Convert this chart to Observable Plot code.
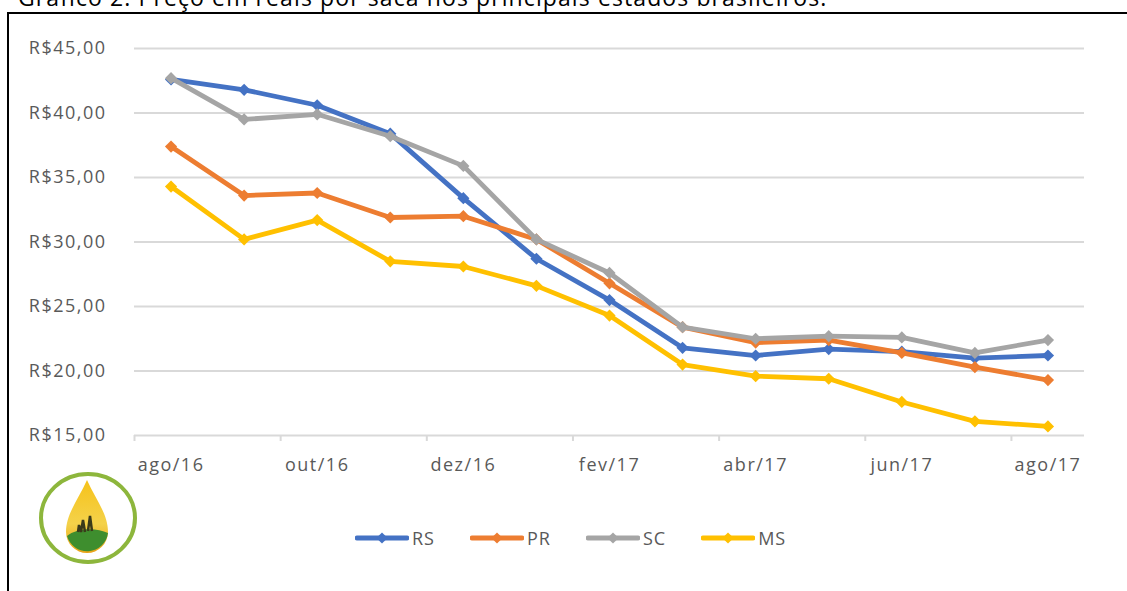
<!DOCTYPE html>
<html>
<head>
<meta charset="utf-8">
<script src="https://cdn.jsdelivr.net/npm/d3@7"></script>
<script src="https://cdn.jsdelivr.net/npm/@observablehq/plot@0.6"></script>
<style>
  html, body { margin: 0; padding: 0; background: #fff; overflow: hidden; }
  #page { position: relative; width: 1127px; height: 591px; overflow: hidden; font-family: "Open Sans", sans-serif; }
  #title { position: absolute; left: 18px; top: -14px; font-size: 23px; line-height: 23px; color: #000; white-space: nowrap; letter-spacing: 1.1px; }
  #frame { position: absolute; left: 7px; top: 12px; width: 1200px; height: 700px; border: 2.5px solid #000; box-sizing: border-box; }
  #chart { position: absolute; left: 0; top: 0; }
  #legend { position: absolute; left: 355px; top: 526px; display: flex; gap: 35px; align-items: center; }
  .item { display: flex; align-items: center; gap: 3px; font-size: 18px; color: #595959; letter-spacing: 1px; }
  #logo { position: absolute; left: 36px; top: 470px; }
</style>
</head>
<body>
<div id="page">
  <div id="title">Gráfico 2: Preço em reais por saca nos principais estados brasileiros.</div>
  <div id="frame"></div>
  <div id="chart"></div>
  <div id="legend"></div>
  <svg id="logo" width="106" height="100" viewBox="0 0 106 100">
    <defs>
      <linearGradient id="gold" x1="0" y1="0" x2="0" y2="1">
        <stop offset="0" stop-color="#F6C21A"/>
        <stop offset="0.6" stop-color="#F4D24A"/>
        <stop offset="1" stop-color="#E8A317"/>
      </linearGradient>
    </defs>
    <ellipse cx="52" cy="48" rx="47" ry="44" fill="none" stroke="#8DB63C" stroke-width="4"/>
    <path d="M51,10 C42,30 30,44 30,62 A21,21 0 0 0 72,62 C72,44 60,30 51,10 Z" fill="url(#gold)"/>
    <path d="M31,66 C40,58 60,57 72,63 A21,21 0 0 1 31,66 Z" fill="#3E8E2E"/>
    <path d="M45,62 l2,-12 l2,12 M52,61 l2,-15 l2,15 M42,62 l1,-7 l2,7" stroke="#3a3a1a" stroke-width="2.5" fill="none"/>
  </svg>
</div>
<script>
const months = ["ago/16","set/16","out/16","nov/16","dez/16","jan/17","fev/17","mar/17","abr/17","mai/17","jun/17","jul/17","ago/17"];
const seriesNames = ["RS","PR","SC","MS"];
const rs = [42.6, 41.8, 40.6, 38.4, 33.4, 28.7, 25.5, 21.8, 21.2, 21.7, 21.5, 21.0, 21.2];
const pr = [37.4, 33.6, 33.8, 31.9, 32.0, 30.2, 26.8, 23.4, 22.2, 22.4, 21.4, 20.3, 19.3];
const sc = [42.7, 39.5, 39.9, 38.2, 35.9, 30.2, 27.6, 23.4, 22.5, 22.7, 22.6, 21.4, 22.4];
const ms = [34.3, 30.2, 31.7, 28.5, 28.1, 26.6, 24.3, 20.5, 19.6, 19.4, 17.6, 16.1, 15.7];
const seriesColors = ["#4472C4","#ED7D31","#A5A5A5","#FFC000"];
const yTicks = [15, 20, 25, 30, 35, 40, 45];

const seriesValues = [rs, pr, sc, ms];
const data = seriesNames.flatMap((s, k) => seriesValues[k].map((v, i) => ({serie: s, i, v})));
const labelIdx = months.map((m, i) => i).filter(i => i % 2 === 0);
const boundaries = labelIdx.map(i => i - 0.5);
const fmt = d => "R$" + d.toFixed(2).replace(".", ",");

const marks = [
  Plot.ruleY(yTicks, {stroke: "#d9d9d9", strokeWidth: 2}),
  Plot.axisY({ticks: yTicks, tickSize: 0, tickPadding: 28, tickFormat: fmt, label: null}),
  Plot.axisX({ticks: labelIdx, tickSize: 0, tickPadding: 23, tickFormat: i => months[i], label: null}),
  Plot.axisX({ticks: boundaries, tickSize: 6, tickFormat: () => "", stroke: "#d9d9d9", strokeWidth: 2, label: null})
];
for (const s of seriesNames) {
  const d = data.filter(r => r.serie === s);
  marks.push(Plot.line(d, {x: "i", y: "v", stroke: "serie", strokeWidth: 4.8, strokeLinejoin: "round", strokeLinecap: "round"}));
  marks.push(Plot.dot(d, {x: "i", y: "v", fill: "serie", symbol: "diamond2", r: 5.5}));
}

const chart = Plot.plot({
  width: 1127,
  height: 480,
  marginLeft: 134,
  marginRight: 43,
  marginTop: 48,
  marginBottom: 45,
  style: {fontFamily: "Open Sans", fontSize: "18px", color: "#595959", letterSpacing: "1.5px", background: "transparent", overflow: "visible"},
  x: {domain: [-0.5, 12.5], axis: null, label: null},
  y: {domain: [15, 45], axis: null, label: null},
  color: {domain: seriesNames, range: seriesColors},
  marks
});
document.getElementById("chart").appendChild(chart);

const legend = document.getElementById("legend");
seriesNames.forEach((s, k) => {
  const item = document.createElement("div");
  item.className = "item";
  const sw = d3.create("svg").attr("width", 54).attr("height", 14);
  sw.append("line").attr("x1", 2).attr("x2", 52).attr("y1", 7).attr("y2", 7)
    .attr("stroke", seriesColors[k]).attr("stroke-width", 4.8).attr("stroke-linecap", "round");
  sw.append("path").attr("d", d3.symbol(d3.symbolDiamond2, 80)()).attr("transform", "translate(27,7)").attr("fill", seriesColors[k]);
  item.appendChild(sw.node());
  const t = document.createElement("span");
  t.textContent = s;
  item.appendChild(t);
  legend.appendChild(item);
});
</script>
</body>
</html>
